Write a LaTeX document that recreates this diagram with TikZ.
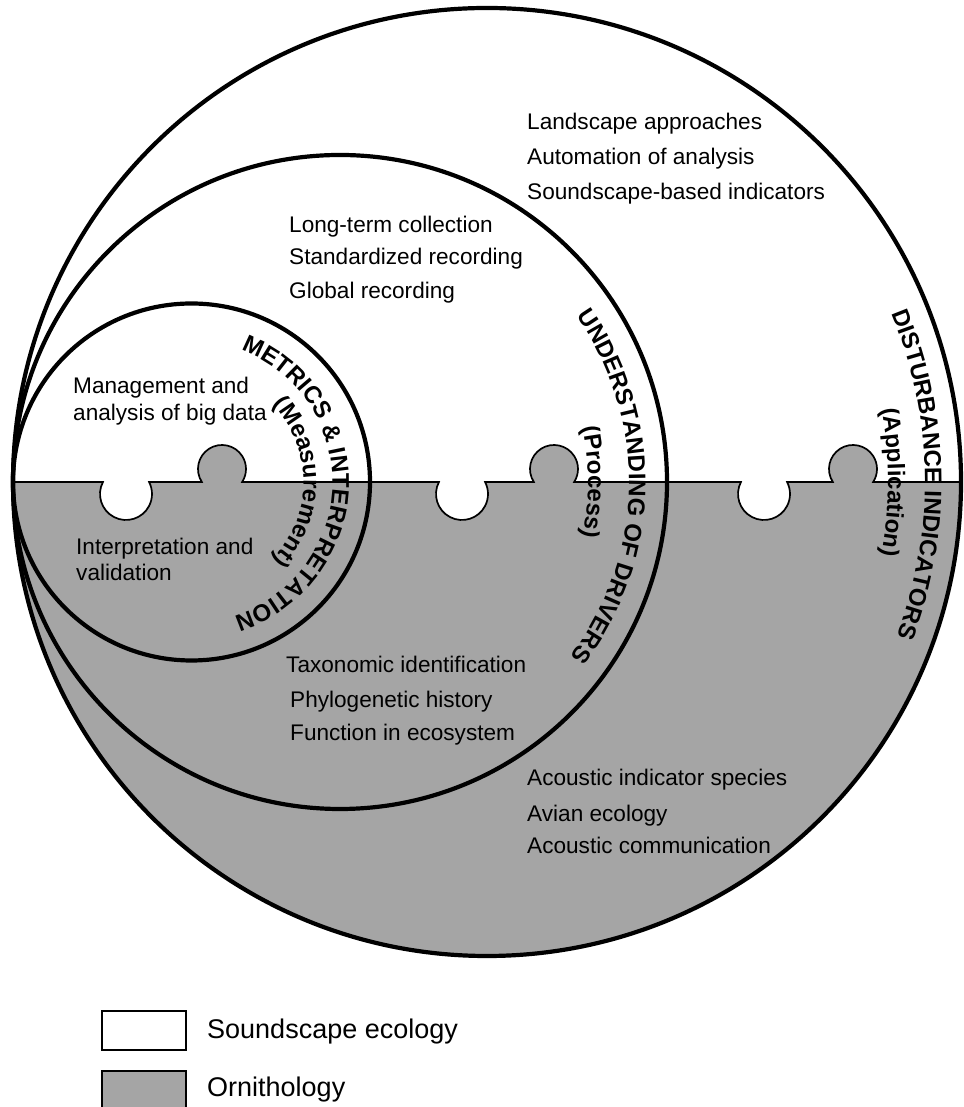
\documentclass[tikz,border=0pt]{standalone}
\usepackage{fontspec}
\setmainfont{Liberation Sans}
\usetikzlibrary{decorations.text}
\definecolor{orni}{RGB}{165,165,165}
\newcommand\ttlfont{\fontsize{24}{24}\selectfont\bfseries}
\begin{document}
\begin{tikzpicture}[x=1pt,y=1pt,
  circ/.style={line width=4.2pt},
  puzzleline/.style={line width=1.7pt},
  item/.style={anchor=base west,inner sep=0pt,font=\fontsize{22.6}{27}\selectfont},
  leg/.style={anchor=base west,inner sep=0pt,font=\fontsize{27}{32}\selectfont},
  legbox/.style={draw,line width=2pt},
  arctext/.style={decorate,decoration={text along path,text align=center,text={#1}}}]
\fill[white] (0,0) rectangle (963,1107);
\useasboundingbox (0,0) rectangle (963,1107);
\def\puzzle{(13,625) -- (102.94,625) arc[start angle=152.5,end angle=387.5,radius=26]
 -- (201.82,625) arc[start angle=212.8,end angle=-32.8,radius=24]
 -- (438.94,625) arc[start angle=152.5,end angle=387.5,radius=26]
 -- (533.82,625) arc[start angle=212.8,end angle=-32.8,radius=24]
 -- (740.94,625) arc[start angle=152.5,end angle=387.5,radius=26]
 -- (832.82,625) arc[start angle=212.8,end angle=-32.8,radius=24]
 -- (961,625)}
\fill[orni] \puzzle arc[start angle=0,end angle=-180,radius=474] -- cycle;
\draw[puzzleline] \puzzle;
% circles
\draw[circ] (487,625) circle[radius=474];
\draw[circ] (340,625) circle[radius=327];
\draw[circ] (191.5,625) circle[radius=178.5];
% curved titles
\path[arctext={|\ttlfont|METRICS {\&} INTERPRETATION}] ([shift={(90:141)}]191.5,625) arc[start angle=90,end angle=-93,radius=141];
\path[arctext={|\ttlfont|(Measurement)}] ([shift={(60:112)}]191.5,625) arc[start angle=60,end angle=-60,radius=112];
\path[arctext={|\ttlfont|UNDERSTANDING OF DRIVERS}] ([shift={(60:289)}]340,625) arc[start angle=60,end angle=-62,radius=289];
\path[arctext={|\ttlfont|(Process)}] ([shift={(45:248)}]340,625) arc[start angle=45,end angle=-45,radius=248];
\path[arctext={|\ttlfont|DISTURBANCE INDICATORS}] ([shift={(42:438)}]487,625) arc[start angle=42,end angle=-40,radius=438];
\path[arctext={|\ttlfont|(Application)}] ([shift={(40:401)}]487,625) arc[start angle=40,end angle=-40,radius=401];
% items
\node[item] (l1) at (527,977) {Landscape approaches};
\node[item] (l2) at (527,942) {Automation of analysis};
\node[item] (l3) at (527,907) {Soundscape-based indicators};
\node[item] (m1) at (289,874) {Long-term collection};
\node[item] (m2) at (289,842) {Standardized recording};
\node[item] (m3) at (289,808) {Global recording};
\node[item] (s1) at (73,713) {Management and};
\node[item] (s2) at (73,686) {analysis of big data};
\node[item] (s3) at (76,552) {Interpretation and};
\node[item] (s4) at (76,526) {validation};
\node[item] (t1) at (286,434) {Taxonomic identification};
\node[item] (t2) at (290,399) {Phylogenetic history};
\node[item] (t3) at (290,366) {Function in ecosystem};
\node[item] (a1) at (527,321) {Acoustic indicator species};
\node[item] (a2) at (527,285) {Avian ecology};
\node[item] (a3) at (527,253) {Acoustic communication};
% legend
\draw[legbox,fill=white] (102,57) rectangle (186,96);
\draw[legbox,fill=orni] (102,-4) rectangle (186,36);
\node[leg] (lg1) at (207,68) {Soundscape ecology};
\node[leg] (lg2) at (207,10) {Ornithology};
\end{tikzpicture}
\end{document}
